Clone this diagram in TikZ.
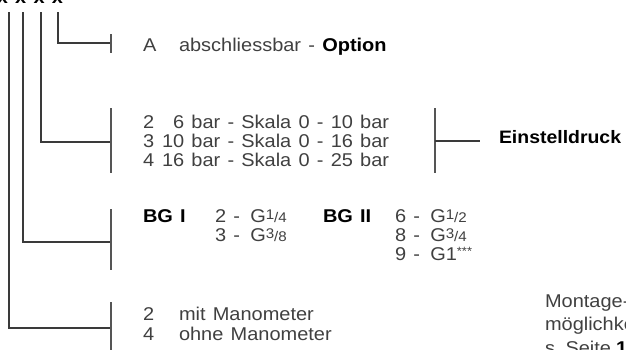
\documentclass[tikz,border=0pt]{standalone}
\usepackage{fontspec}
\setmainfont{Liberation Sans}[FakeStretch=1.08,WordSpace=1.3]
\definecolor{txt}{HTML}{404040}
\definecolor{ln}{HTML}{3A3A3A}
\definecolor{br}{HTML}{555555}
\newcommand{\frc}[2]{{\fontsize{14}{14}\selectfont\raisebox{0.4ex}{#1}/#2}}
\begin{document}
\begin{tikzpicture}[x=1pt,y=-1pt,
  every node/.style={inner sep=0pt,outer sep=0pt,anchor=base west,text=txt,font=\fontsize{18.5}{19}\selectfont},
  conn/.style={draw=ln,line width=1.2pt},
  brk/.style={draw=br,line width=1.6pt}]
\useasboundingbox (0,0) rectangle (626,349);
% header (cut off at top)
\node[anchor=base east,text=black,font=\fontsize{18.5}{19}\selectfont\bfseries] (hdr) at (63,3.5) {xx x x x};
% coordinates
\coordinate (t1) at (9,12); \coordinate (t2) at (23,12); \coordinate (t3) at (41,12); \coordinate (t4) at (58,12);
\coordinate (b1) at (111,43); \coordinate (b2) at (111,142); \coordinate (b3) at (111,242); \coordinate (b4) at (111,328);
\draw[conn] (t4) |- (b1);
\draw[conn] (t3) |- (b2);
\draw[conn] (t2) |- (b3);
\draw[conn] (t1) |- (b4);
\coordinate (k1a) at (111,34); \coordinate (k1b) at (111,53);
\coordinate (k2a) at (111,108); \coordinate (k2b) at (111,173);
\coordinate (k3a) at (111,209); \coordinate (k3b) at (111,270);
\coordinate (k4a) at (111,302); \coordinate (k4b) at (111,352);
\draw[brk] (k1a) -- (k1b);
\draw[brk] (k2a) -- (k2b);
\draw[brk] (k3a) -- (k3b);
\draw[brk] (k4a) -- (k4b);
% right bracket
\coordinate (r1a) at (435,108); \coordinate (r1b) at (435,173);
\coordinate (r1m) at (435,141); \coordinate (r1e) at (480,141);
\draw[brk] (r1a) -- (r1b);
\draw[conn] (r1m) -- (r1e);
% texts
\node (a1) at (143,51) {A};
\node (a2) at (179,51) {abschliessbar - \textbf{\color{black}Option}};
\node (s1n) at (143,128) {2};
\node (s1) at (162,128) {\phantom{1}6 bar - Skala 0 - 10 bar};
\node (s2n) at (143,147) {3};
\node (s2) at (162,147) {10 bar - Skala 0 - 16 bar};
\node (s3n) at (143,166) {4};
\node (s3) at (162,166) {16 bar - Skala 0 - 25 bar};
\node[text=black,font=\fontsize{18}{19}\selectfont] (ein) at (499,143) {\textbf{Einstelldruck}};
\node[text=black] (bg1) at (143,222) {\textbf{BG I}};
\node (g1) at (215,222) {2 -\, G\frc{1}{4}};
\node (g2) at (215,241) {3 -\, G\frc{3}{8}};
\node[text=black] (bg2) at (323,222) {\textbf{BG II}};
\node (g3) at (395,222) {6 -\, G\frc{1}{2}};
\node (g4) at (395,241) {8 -\, G\frc{3}{4}};
\node (g5) at (395,260) {9 -\, G1{\fontsize{12}{12}\selectfont\raisebox{0.7ex}{***}}};
\node (m1n) at (143,320) {2};
\node (m1) at (179,320) {mit Manometer};
\node (m2n) at (143,340) {4};
\node (m2) at (179,340) {ohne Manometer};
\node (mo1) at (545,307) {Montage-};
\node (mo2) at (545,330) {möglichkeiten};
\node (mo3) at (545,354) {s.\hspace{5pt}Seite\hspace{5pt}\textbf{\color{black}1}};
\end{tikzpicture}
\end{document}
